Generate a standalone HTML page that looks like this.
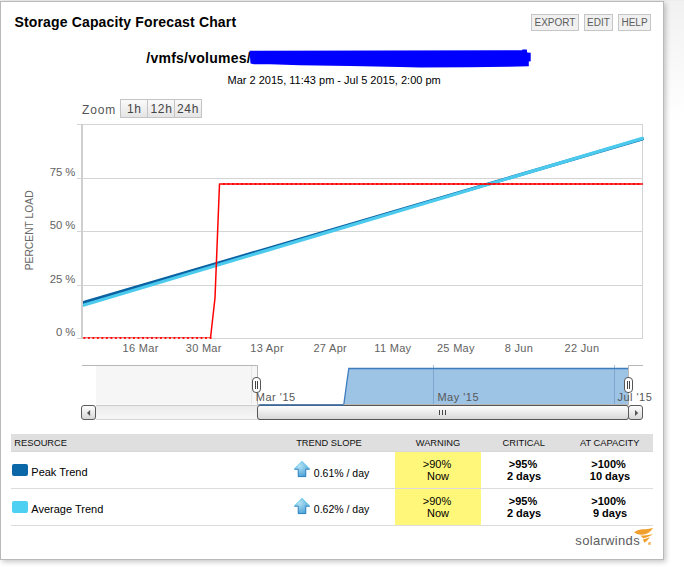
<!DOCTYPE html>
<html><head><meta charset="utf-8">
<style>
html,body{margin:0;padding:0;background:#fff;}
#root{position:relative;width:684px;height:567px;overflow:hidden;background:#fff;font-family:"Liberation Sans", sans-serif;}
#bgtop{position:absolute;left:664px;top:0;width:20px;height:120px;background:linear-gradient(#f1f1f1,#fff);}
#panel{position:absolute;left:0;top:1px;width:662px;height:557px;border:1px solid #b9b9b9;background:#fff;box-shadow:2px 2px 5px rgba(0,0,0,0.22);}
svg{position:absolute;left:0;top:0;}
text{font-family:"Liberation Sans", sans-serif;}
</style></head><body>
<div id="root">
<div id="bgtop"></div>
<div style="position:absolute;left:0;top:0;width:684px;height:1px;background:#ededed"></div>
<div id="panel"></div>
<svg width="684" height="567" viewBox="0 0 684 567">
<defs>
<linearGradient id="btn" x1="0" y1="0" x2="0" y2="1"><stop offset="0" stop-color="#fbfbfb"/><stop offset="1" stop-color="#e4e4e4"/></linearGradient>
<linearGradient id="sb" x1="0" y1="0" x2="0" y2="1"><stop offset="0" stop-color="#ffffff"/><stop offset="1" stop-color="#d6d6d6"/></linearGradient>
<linearGradient id="track" x1="0" y1="0" x2="0" y2="1"><stop offset="0" stop-color="#ebebeb"/><stop offset="1" stop-color="#f7f7f7"/></linearGradient>
<radialGradient id="arr" cx="0.35" cy="0.3" r="0.8"><stop offset="0" stop-color="#b4e2f5"/><stop offset="1" stop-color="#3d9ad2"/></radialGradient>
</defs>

<!-- Title -->
<text x="14.5" y="27.2" font-size="14" font-weight="bold" fill="#000" letter-spacing="0.15">Storage Capacity Forecast Chart</text>

<!-- Buttons -->
<g font-size="10" fill="#5c5c5c">
<rect x="531.5" y="14.5" width="47" height="16" fill="#f0f0f0" stroke="#c6c6c6"/>
<text x="555" y="25.7" text-anchor="middle">EXPORT</text>
<rect x="584.5" y="14.5" width="28" height="16" fill="#f0f0f0" stroke="#c6c6c6"/>
<text x="598.5" y="25.7" text-anchor="middle">EDIT</text>
<rect x="618.5" y="14.5" width="32" height="16" fill="#f0f0f0" stroke="#c6c6c6"/>
<text x="634.5" y="25.7" text-anchor="middle">HELP</text>
</g>

<!-- Subtitle -->
<text x="146.3" y="63" font-size="14" font-weight="bold" fill="#000" letter-spacing="0.25">/vmfs/volumes/</text>
<path d="M249.5,50.7 L522,50.3 L522.5,49.6 L526.8,49.6 L527.2,52.6 L530.7,52.8 L530.7,61.2 L528.8,61.4 L528.8,66.3 L507,66.7 L470,67.3 L420,67.5 L400,67 L350,66 L300,65.2 L270,64.2 L254,64.2 L250.5,63.6 Z" fill="#0000ff"/>
<text x="227.5" y="83.8" font-size="11" fill="#000">Mar 2 2015, 11:43 pm - Jul 5 2015, 2:00 pm</text>

<!-- Zoom -->
<text x="82" y="113.7" font-size="12" fill="#555" letter-spacing="0.85">Zoom</text>
<rect x="120.5" y="99.5" width="81" height="18" fill="url(#btn)" stroke="#c4c4c4"/>
<line x1="147.5" y1="100" x2="147.5" y2="117" stroke="#c4c4c4"/>
<line x1="174.5" y1="100" x2="174.5" y2="117" stroke="#c4c4c4"/>
<g font-size="12" fill="#444" text-anchor="middle" letter-spacing="0.7">
<text x="134.3" y="113">1h</text><text x="161.5" y="113">12h</text><text x="188" y="113">24h</text>
</g>

<!-- Plot grid -->
<g stroke="#d4d4d4" stroke-width="1" fill="none">
<line x1="77" y1="124.5" x2="643" y2="124.5"/>
<line x1="77" y1="178.5" x2="642" y2="178.5"/>
<line x1="77" y1="231.5" x2="642" y2="231.5"/>
<line x1="77" y1="285.5" x2="642" y2="285.5"/>
<line x1="77" y1="338.5" x2="83" y2="338.5"/><line x1="210" y1="338.5" x2="643" y2="338.5"/>
<line x1="642.5" y1="124" x2="642.5" y2="339"/>
</g>
<rect x="81" y="124" width="2" height="215" fill="#cfcfcf"/>

<!-- Y labels -->
<g font-size="11.3" fill="#626262">
<text x="75.4" y="175.8" text-anchor="end">75 %</text>
<text x="75.4" y="229" text-anchor="end">50 %</text>
<text x="75.4" y="282.6" text-anchor="end">25 %</text>
<text x="75.4" y="335.8" text-anchor="end">0 %</text>
</g>
<text transform="translate(32.9,270.3) rotate(-90)" font-size="10.3" fill="#666">PERCENT LOAD</text>

<!-- X labels -->
<g font-size="11" fill="#626262" letter-spacing="0.3">
<text x="140.6" y="352" text-anchor="middle">16 Mar</text>
<text x="203.75" y="352" text-anchor="middle">30 Mar</text>
<text x="267.1" y="352" text-anchor="middle">13 Apr</text>
<text x="330.25" y="352" text-anchor="middle">27 Apr</text>
<text x="392.9" y="352" text-anchor="middle">11 May</text>
<text x="455.9" y="352" text-anchor="middle">25 May</text>
<text x="519" y="352" text-anchor="middle">8 Jun</text>
<text x="581.9" y="352" text-anchor="middle">22 Jun</text>
</g>

<!-- Series -->
<svg x="0" y="0" width="684" height="567">
<clipPath id="pc"><rect x="83" y="124" width="565" height="215"/></clipPath>
<g clip-path="url(#pc)">
<line x1="82" y1="302.9" x2="642.3" y2="139.0" stroke="#0a62a2" stroke-width="3.2" stroke-linecap="round"/>
<line x1="82" y1="305.6" x2="642.3" y2="138.4" stroke="#4bcaee" stroke-width="3.2" stroke-linecap="round"/>
<line x1="83" y1="337.5" x2="211" y2="337.5" stroke="#ef7070" stroke-width="1"/><line x1="83" y1="338.5" x2="211" y2="338.5" stroke="#f7d4d4" stroke-width="1"/>
<polyline points="210.5,338 215,298 219.5,184 643,184" fill="none" stroke="#ff0000" stroke-width="1.5" stroke-linejoin="round"/>
<g fill="#ff0000">
<ellipse cx="84.39" cy="337.9" rx="1.15" ry="1.0"/>
<ellipse cx="88.89" cy="337.9" rx="1.15" ry="1.0"/>
<ellipse cx="93.40" cy="337.9" rx="1.15" ry="1.0"/>
<ellipse cx="97.90" cy="337.9" rx="1.15" ry="1.0"/>
<ellipse cx="102.40" cy="337.9" rx="1.15" ry="1.0"/>
<ellipse cx="106.91" cy="337.9" rx="1.15" ry="1.0"/>
<ellipse cx="111.41" cy="337.9" rx="1.15" ry="1.0"/>
<ellipse cx="115.92" cy="337.9" rx="1.15" ry="1.0"/>
<ellipse cx="120.42" cy="337.9" rx="1.15" ry="1.0"/>
<ellipse cx="124.92" cy="337.9" rx="1.15" ry="1.0"/>
<ellipse cx="129.43" cy="337.9" rx="1.15" ry="1.0"/>
<ellipse cx="133.93" cy="337.9" rx="1.15" ry="1.0"/>
<ellipse cx="138.44" cy="337.9" rx="1.15" ry="1.0"/>
<ellipse cx="142.94" cy="337.9" rx="1.15" ry="1.0"/>
<ellipse cx="147.44" cy="337.9" rx="1.15" ry="1.0"/>
<ellipse cx="151.95" cy="337.9" rx="1.15" ry="1.0"/>
<ellipse cx="156.45" cy="337.9" rx="1.15" ry="1.0"/>
<ellipse cx="160.96" cy="337.9" rx="1.15" ry="1.0"/>
<ellipse cx="165.46" cy="337.9" rx="1.15" ry="1.0"/>
<ellipse cx="169.96" cy="337.9" rx="1.15" ry="1.0"/>
<ellipse cx="174.47" cy="337.9" rx="1.15" ry="1.0"/>
<ellipse cx="178.97" cy="337.9" rx="1.15" ry="1.0"/>
<ellipse cx="183.48" cy="337.9" rx="1.15" ry="1.0"/>
<ellipse cx="187.98" cy="337.9" rx="1.15" ry="1.0"/>
<ellipse cx="192.48" cy="337.9" rx="1.15" ry="1.0"/>
<ellipse cx="196.99" cy="337.9" rx="1.15" ry="1.0"/>
<ellipse cx="201.49" cy="337.9" rx="1.15" ry="1.0"/>
<ellipse cx="206.00" cy="337.9" rx="1.15" ry="1.0"/>
<ellipse cx="210.50" cy="337.9" rx="1.15" ry="1.0"/>
<ellipse cx="224.00" cy="184" rx="1.25" ry="1.0"/>
<ellipse cx="228.51" cy="184" rx="1.25" ry="1.0"/>
<ellipse cx="233.01" cy="184" rx="1.25" ry="1.0"/>
<ellipse cx="237.52" cy="184" rx="1.25" ry="1.0"/>
<ellipse cx="242.02" cy="184" rx="1.25" ry="1.0"/>
<ellipse cx="246.52" cy="184" rx="1.25" ry="1.0"/>
<ellipse cx="251.03" cy="184" rx="1.25" ry="1.0"/>
<ellipse cx="255.53" cy="184" rx="1.25" ry="1.0"/>
<ellipse cx="260.04" cy="184" rx="1.25" ry="1.0"/>
<ellipse cx="264.54" cy="184" rx="1.25" ry="1.0"/>
<ellipse cx="269.04" cy="184" rx="1.25" ry="1.0"/>
<ellipse cx="273.55" cy="184" rx="1.25" ry="1.0"/>
<ellipse cx="278.05" cy="184" rx="1.25" ry="1.0"/>
<ellipse cx="282.56" cy="184" rx="1.25" ry="1.0"/>
<ellipse cx="287.06" cy="184" rx="1.25" ry="1.0"/>
<ellipse cx="291.56" cy="184" rx="1.25" ry="1.0"/>
<ellipse cx="296.07" cy="184" rx="1.25" ry="1.0"/>
<ellipse cx="300.57" cy="184" rx="1.25" ry="1.0"/>
<ellipse cx="305.08" cy="184" rx="1.25" ry="1.0"/>
<ellipse cx="309.58" cy="184" rx="1.25" ry="1.0"/>
<ellipse cx="314.08" cy="184" rx="1.25" ry="1.0"/>
<ellipse cx="318.59" cy="184" rx="1.25" ry="1.0"/>
<ellipse cx="323.09" cy="184" rx="1.25" ry="1.0"/>
<ellipse cx="327.60" cy="184" rx="1.25" ry="1.0"/>
<ellipse cx="332.10" cy="184" rx="1.25" ry="1.0"/>
<ellipse cx="336.60" cy="184" rx="1.25" ry="1.0"/>
<ellipse cx="341.11" cy="184" rx="1.25" ry="1.0"/>
<ellipse cx="345.61" cy="184" rx="1.25" ry="1.0"/>
<ellipse cx="350.12" cy="184" rx="1.25" ry="1.0"/>
<ellipse cx="354.62" cy="184" rx="1.25" ry="1.0"/>
<ellipse cx="359.12" cy="184" rx="1.25" ry="1.0"/>
<ellipse cx="363.63" cy="184" rx="1.25" ry="1.0"/>
<ellipse cx="368.13" cy="184" rx="1.25" ry="1.0"/>
<ellipse cx="372.64" cy="184" rx="1.25" ry="1.0"/>
<ellipse cx="377.14" cy="184" rx="1.25" ry="1.0"/>
<ellipse cx="381.64" cy="184" rx="1.25" ry="1.0"/>
<ellipse cx="386.15" cy="184" rx="1.25" ry="1.0"/>
<ellipse cx="390.65" cy="184" rx="1.25" ry="1.0"/>
<ellipse cx="395.16" cy="184" rx="1.25" ry="1.0"/>
<ellipse cx="399.66" cy="184" rx="1.25" ry="1.0"/>
<ellipse cx="404.16" cy="184" rx="1.25" ry="1.0"/>
<ellipse cx="408.67" cy="184" rx="1.25" ry="1.0"/>
<ellipse cx="413.17" cy="184" rx="1.25" ry="1.0"/>
<ellipse cx="417.68" cy="184" rx="1.25" ry="1.0"/>
<ellipse cx="422.18" cy="184" rx="1.25" ry="1.0"/>
<ellipse cx="426.68" cy="184" rx="1.25" ry="1.0"/>
<ellipse cx="431.19" cy="184" rx="1.25" ry="1.0"/>
<ellipse cx="435.69" cy="184" rx="1.25" ry="1.0"/>
<ellipse cx="440.20" cy="184" rx="1.25" ry="1.0"/>
<ellipse cx="444.70" cy="184" rx="1.25" ry="1.0"/>
<ellipse cx="449.20" cy="184" rx="1.25" ry="1.0"/>
<ellipse cx="453.71" cy="184" rx="1.25" ry="1.0"/>
<ellipse cx="458.21" cy="184" rx="1.25" ry="1.0"/>
<ellipse cx="462.72" cy="184" rx="1.25" ry="1.0"/>
<ellipse cx="467.22" cy="184" rx="1.25" ry="1.0"/>
<ellipse cx="471.72" cy="184" rx="1.25" ry="1.0"/>
<ellipse cx="476.23" cy="184" rx="1.25" ry="1.0"/>
<ellipse cx="480.73" cy="184" rx="1.25" ry="1.0"/>
<ellipse cx="485.24" cy="184" rx="1.25" ry="1.0"/>
<ellipse cx="489.74" cy="184" rx="1.25" ry="1.0"/>
<ellipse cx="494.24" cy="184" rx="1.25" ry="1.0"/>
<ellipse cx="498.75" cy="184" rx="1.25" ry="1.0"/>
<ellipse cx="503.25" cy="184" rx="1.25" ry="1.0"/>
<ellipse cx="507.76" cy="184" rx="1.25" ry="1.0"/>
<ellipse cx="512.26" cy="184" rx="1.25" ry="1.0"/>
<ellipse cx="516.76" cy="184" rx="1.25" ry="1.0"/>
<ellipse cx="521.27" cy="184" rx="1.25" ry="1.0"/>
<ellipse cx="525.77" cy="184" rx="1.25" ry="1.0"/>
<ellipse cx="530.28" cy="184" rx="1.25" ry="1.0"/>
<ellipse cx="534.78" cy="184" rx="1.25" ry="1.0"/>
<ellipse cx="539.28" cy="184" rx="1.25" ry="1.0"/>
<ellipse cx="543.79" cy="184" rx="1.25" ry="1.0"/>
<ellipse cx="548.29" cy="184" rx="1.25" ry="1.0"/>
<ellipse cx="552.80" cy="184" rx="1.25" ry="1.0"/>
<ellipse cx="557.30" cy="184" rx="1.25" ry="1.0"/>
<ellipse cx="561.80" cy="184" rx="1.25" ry="1.0"/>
<ellipse cx="566.31" cy="184" rx="1.25" ry="1.0"/>
<ellipse cx="570.81" cy="184" rx="1.25" ry="1.0"/>
<ellipse cx="575.32" cy="184" rx="1.25" ry="1.0"/>
<ellipse cx="579.82" cy="184" rx="1.25" ry="1.0"/>
<ellipse cx="584.32" cy="184" rx="1.25" ry="1.0"/>
<ellipse cx="588.83" cy="184" rx="1.25" ry="1.0"/>
<ellipse cx="593.33" cy="184" rx="1.25" ry="1.0"/>
<ellipse cx="597.84" cy="184" rx="1.25" ry="1.0"/>
<ellipse cx="602.34" cy="184" rx="1.25" ry="1.0"/>
<ellipse cx="606.84" cy="184" rx="1.25" ry="1.0"/>
<ellipse cx="611.35" cy="184" rx="1.25" ry="1.0"/>
<ellipse cx="615.85" cy="184" rx="1.25" ry="1.0"/>
<ellipse cx="620.36" cy="184" rx="1.25" ry="1.0"/>
<ellipse cx="624.86" cy="184" rx="1.25" ry="1.0"/>
<ellipse cx="629.36" cy="184" rx="1.25" ry="1.0"/>
<ellipse cx="633.87" cy="184" rx="1.25" ry="1.0"/>
<ellipse cx="638.37" cy="184" rx="1.25" ry="1.0"/>
</g>
</g>
</svg>

<!-- Navigator -->
<rect x="96" y="366" width="161.5" height="38.5" fill="#f6f6f6"/>
<line x1="251.5" y1="366" x2="251.5" y2="404.5" stroke="#e6e6e6"/>
<path d="M258,404.5 L343.8,404.5 L347,381 L348.8,368.5 L628.5,368.5 L628.5,404.5 Z" fill="#9dc3e5"/>
<line x1="433.5" y1="365" x2="433.5" y2="404.5" stroke="#6d94c0" stroke-opacity="0.6"/>
<line x1="614.5" y1="365" x2="614.5" y2="404.5" stroke="#6d94c0" stroke-opacity="0.6"/>
<path d="M343.8,404.5 L347,381 L348.8,368.5 L628.5,368.5" fill="none" stroke="#3d7dbd" stroke-width="1.3"/>
<path d="M82,365.5 L257.5,365.5 L257.5,404.5 L628.5,404.5 L628.5,365.5 L643,365.5" fill="none" stroke="#b7b7b7" stroke-width="1"/>
<g font-size="11" fill="#585858" letter-spacing="0.5">
<text x="255.8" y="400.7">Mar '15</text>
<text x="437.4" y="400.7">May '15</text>
<text x="617.4" y="400.7">Jul '15</text>
</g>
<!-- handles -->
<rect x="252.5" y="377.5" width="8" height="15" rx="3.5" fill="#fff" stroke="#555"/>
<line x1="255.5" y1="381" x2="255.5" y2="389" stroke="#444"/><line x1="257.5" y1="381" x2="257.5" y2="389" stroke="#444"/>
<rect x="624.5" y="377.5" width="8" height="15" rx="3.5" fill="#fff" stroke="#555"/>
<line x1="627.5" y1="381" x2="627.5" y2="389" stroke="#444"/><line x1="629.5" y1="381" x2="629.5" y2="389" stroke="#444"/>

<!-- Scrollbar -->
<rect x="96" y="405.5" width="532.5" height="14" fill="url(#track)"/>
<line x1="96" y1="405.5" x2="628.5" y2="405.5" stroke="#cccccc"/>
<line x1="96" y1="419.5" x2="628.5" y2="419.5" stroke="#d6d6d6"/>
<rect x="257.5" y="405.5" width="371" height="14" rx="2.5" fill="url(#sb)" stroke="#555"/>
<g stroke="#444"><line x1="439.5" y1="410" x2="439.5" y2="415"/><line x1="442.5" y1="410" x2="442.5" y2="415"/><line x1="445.5" y1="410" x2="445.5" y2="415"/></g>
<rect x="81.5" y="405.5" width="14" height="14" rx="2.5" fill="url(#sb)" stroke="#5a5a5a"/>
<path d="M87,413 L90.1,410 L90.1,416 Z" fill="#555"/>
<rect x="628.5" y="405.5" width="14" height="14" rx="2.5" fill="url(#sb)" stroke="#5a5a5a"/>
<path d="M638.2,413 L635,409.9 L635,416.1 Z" fill="#555"/>
<line x1="259.5" y1="404.9" x2="343.8" y2="404.9" stroke="#3a6da8" stroke-width="1.5"/>

<!-- Table -->
<rect x="11" y="434" width="642" height="18" fill="#dfdfdf"/><rect x="11" y="451" width="642" height="1" fill="#d7d7d7"/>
<g font-size="9.3" fill="#111">
<text x="14.3" y="445.8">RESOURCE</text>
<text x="329" y="445.8" text-anchor="middle">TREND SLOPE</text>
<text x="438" y="445.8" text-anchor="middle">WARNING</text>
<text x="523.7" y="445.8" text-anchor="middle">CRITICAL</text>
<text x="609.7" y="445.8" text-anchor="middle">AT CAPACITY</text>
</g>
<rect x="395" y="452" width="86" height="73" fill="#fff77a"/>
<g fill="#dcdcdc"><rect x="11" y="488" width="642" height="1"/><rect x="11" y="525" width="642" height="1"/></g>
<rect x="12" y="464" width="16" height="12" rx="2" fill="#0a67a8"/>
<rect x="12" y="501" width="16" height="12" rx="2" fill="#4dd0f2"/>
<g font-size="11" fill="#000">
<text x="31.3" y="475.5">Peak Trend</text>
<text x="31.3" y="512.5">Average Trend</text>
</g>
<g transform="translate(0,0)">
<path d="M302,461 L310.2,469.6 L306,469.6 L306,477 L298,477 L298,469.6 L293.8,469.6 Z" fill="url(#arr)"/>
<path d="M294.3,469.2 L298.2,469.2 L298.2,476.6 L305.8,476.6 L305.8,469.2 L309.7,469.2" fill="none" stroke="#2f7fc0" stroke-width="0.9"/>
<path d="M294.2,469 L302,461.3 L309.8,469" fill="none" stroke="#5ccaec" stroke-width="0.8"/>
</g>
<g transform="translate(0,37)">
<path d="M302,461 L310.2,469.6 L306,469.6 L306,477 L298,477 L298,469.6 L293.8,469.6 Z" fill="url(#arr)"/>
<path d="M294.3,469.2 L298.2,469.2 L298.2,476.6 L305.8,476.6 L305.8,469.2 L309.7,469.2" fill="none" stroke="#2f7fc0" stroke-width="0.9"/>
<path d="M294.2,469 L302,461.3 L309.8,469" fill="none" stroke="#5ccaec" stroke-width="0.8"/>
</g>
<g font-size="10.5" fill="#000">
<text x="313.8" y="476.7">0.61% / day</text>
<text x="313.8" y="513.3">0.62% / day</text>
</g>
<g font-size="11" fill="#000" text-anchor="middle">
<text x="437" y="467.8">&gt;90%</text><text x="438" y="479.7">Now</text>
<text x="437" y="504.5">&gt;90%</text><text x="438" y="516.5">Now</text>
</g>
<g font-size="11" font-weight="bold" fill="#000" text-anchor="middle">
<text x="523" y="467.8">&gt;95%</text><text x="524" y="479.7">2 days</text>
<text x="523" y="504.5">&gt;95%</text><text x="524" y="516.5">2 days</text>
<text x="608.5" y="467.8">&gt;100%</text><text x="610" y="479.7">10 days</text>
<text x="608.5" y="504.5">&gt;100%</text><text x="610" y="516.5">9 days</text>
</g>

<!-- Footer logo -->
<text x="575.3" y="544.6" font-size="13" fill="#5c5c5e" letter-spacing="0.33">solarwinds</text>
<g fill="#f0a02a">
<path d="M634,532.3 C637,530.5 640,529.4 643,529.3 C646,529.2 649.5,528.8 653,528 C651.5,530.5 649,532.8 646,534 C643,535 639.5,535 637,534 Z"/>
<path d="M640.5,535.6 C644,535.6 648,535 653,534.3 C650.5,536 647,537.5 643.8,538.3 L642.3,537.6 Z"/>
<path d="M642.8,539.5 C645,539 647.5,538 650,537.3 C648.5,539.5 646.5,541.3 644.5,542.8 Z"/>
</g>
<rect x="648.2" y="542.2" width="2.6" height="2.6" fill="#f6b35a"/>
</svg>
</div>
</body></html>
